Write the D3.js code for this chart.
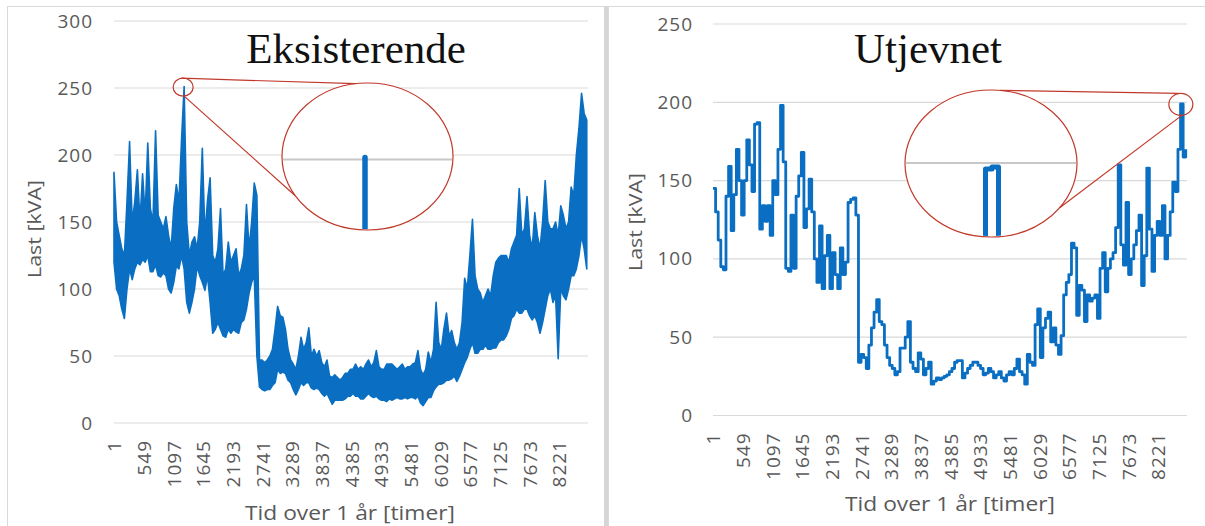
<!DOCTYPE html>
<html><head><meta charset="utf-8">
<script src="https://cdn.jsdelivr.net/npm/d3@7"></script>
<style>html,body{margin:0;padding:0;background:#fff;} svg{display:block}</style>
</head><body>
<svg id="c" width="1205" height="526"></svg>
<script>
// ---------- data (one window every 48 hours) ----------
const sampleStepHours = 48;
const xTickLabels = [1,549,1097,1645,2193,2741,3289,3837,4385,4933,5481,6029,6577,7125,7673,8221];
const yTicksLeft = [0,50,100,150,200,250,300];
const yTicksRight = [0,50,100,150,200,250];
const chartTitles = ["Eksisterende","Utjevnet"];
const yAxisTitle = "Last [kVA]";
const xAxisTitle = "Tid over 1 år [timer]";

// "Eksisterende": highest and lowest hourly load inside each 48-hour window
const eksisterendeMax = [
 187,150,140,130,125,165,210,150,165,189,150,186,155,209,160,150,218,155,150,145,
 154,140,130,160,178,165,211,251,150,125,135,139,130,150,205,140,166,183,125,120,
 130,160,110,115,135,120,125,130,110,115,125,163,130,150,179,170,47,47,45,47,
 50,55,70,87,80,79,70,55,47,44,40,50,64,55,60,71,50,55,50,54,
 45,42,47,35,34,36,34,32,34,37,37,40,40,44,40,42,40,44,47,42,
 45,54,42,40,40,44,44,44,42,40,42,44,40,42,42,44,45,54,40,36,
 40,53,45,55,90,60,55,70,82,65,69,60,55,60,75,108,100,125,152,110,
 100,97,90,95,100,95,110,120,123,125,125,125,120,130,135,140,175,140,145,169,
 140,130,157,140,130,150,181,150,145,145,150,140,162,155,145,150,176,170,200,220,
 246,231,226
];
const eksisterendeMin = [
 120,100,95,85,78,100,115,107,115,120,118,122,120,125,113,113,118,110,109,112,
 110,100,97,105,117,115,125,115,90,82,90,100,117,110,105,99,110,90,67,70,
 75,70,65,64,70,67,70,68,67,75,77,85,97,105,110,50,27,25,24,25,
 25,28,30,40,37,38,37,32,30,25,21,25,30,28,30,30,26,25,26,25,
 22,20,22,18,14,17,17,17,17,18,20,20,22,20,20,18,18,20,22,20,
 19,20,18,17,17,16,18,17,18,19,18,18,19,18,19,19,18,20,15,13,
 16,19,19,24,27,29,29,30,32,32,33,35,31,35,40,45,49,55,60,52,
 52,55,55,58,55,55,56,56,60,62,62,65,70,78,80,85,82,82,85,85,
 80,77,80,75,67,75,85,95,100,90,95,48,100,95,92,100,110,110,115,125,
 140,130,115
];

// "Utjevnet": load at the start of each 48-hour window
const utjevnet = [
 145,130,112,95,93,140,159,118,141,170,150,128,150,176,160,143,186,187,119,134,
 124,134,115,150,141,170,198,162,94,92,128,94,140,153,168,120,132,151,130,100,
 85,121,81,102,115,81,104,90,81,107,90,98,136,138,139,128,34,39,37,30,
 45,56,66,74,60,58,45,37,32,30,26,28,43,43,50,60,34,30,28,40,
 36,26,30,34,20,22,24,23,24,25,26,28,30,34,35,35,24,27,30,32,
 34,34,32,30,26,27,30,28,24,26,28,24,22,26,28,26,30,36,28,26,
 20,39,34,32,58,68,37,56,62,66,47,56,45,39,51,77,85,90,110,107,
 64,83,80,60,77,73,75,77,62,94,104,79,94,100,104,120,160,109,96,136,
 90,100,109,118,128,83,102,158,119,92,115,124,115,134,100,115,130,149,143,170,
 199,165,170
];

// ---------- layout ----------
const svg = d3.select("#c");
const FONT = "'Open Sans', 'Noto Sans', sans-serif";
const TXT = "#595959";
const BLUE = "#0a6fc2";
const RED = "#c0392b";

svg.append("rect").attr("x",7.5).attr("y",6.5).attr("width",597).attr("height",530)
  .attr("fill","#fff").attr("stroke","#d9d9d9").attr("stroke-width",1);
svg.append("rect").attr("x",608.5).attr("y",6.5).attr("width",600).attr("height",530)
  .attr("fill","#fff").attr("stroke","#d9d9d9").attr("stroke-width",1);
svg.append("rect").attr("x",604).attr("y",6).attr("width",4).attr("height",520).attr("fill","#d6d6d6");

const panels = [
  {kind: "band", hi: eksisterendeMax, lo: eksisterendeMin, yTicks: yTicksLeft, yMax: 300,
   left: 114, right: 588, top: 21, bottom: 423,
   labelRight: 93, xLabTop: 17, yTitleX: 41, yTitleY: 229, xTitleX: 350, xTitleY: 520,
   title: chartTitles[0], titleX: 356, titleY: 63,
   peakIndex: 27, smallR: [10, 9], big: {cx: 367.5, cy: 156.5, rx: 85.5, ry: 73.5},
   topT: -98, botT: 148, inset: "bar"},
  {kind: "line", values: utjevnet, yTicks: yTicksRight, yMax: 250,
   left: 713, right: 1187, top: 24, bottom: 415.5,
   labelRight: 693, xLabTop: 17, yTitleX: 642, yTitleY: 222, xTitleX: 950, xTitleY: 511,
   title: chartTitles[1], titleX: 928, titleY: 63,
   peakIndex: 180, smallR: [12, 11], big: {cx: 991, cy: 163.5, rx: 86, ry: 73.5},
   topT: -84, botT: 37, inset: "double"}
];

panels.forEach((p, pi) => {
  const g = svg.append("g");
  const x = d3.scaleLinear().domain([1, 8760]).range([p.left, p.right]);
  const y = d3.scaleLinear().domain([0, p.yMax]).range([p.bottom, p.top]);
  const hourOf = i => 1 + sampleStepHours * i;

  g.append("g").selectAll("line").data(p.yTicks).join("line")
    .attr("x1", p.left).attr("x2", p.right)
    .attr("y1", d => y(d)).attr("y2", d => y(d))
    .attr("stroke", "#d9d9d9").attr("stroke-width", 1.2);

  const ya = g.append("g").attr("transform", `translate(${p.left},0)`)
    .call(d3.axisLeft(y).tickValues(p.yTicks).tickSize(0).tickPadding(p.left - p.labelRight));
  ya.select(".domain").remove();
  ya.selectAll("text").attr("font-family", FONT).attr("font-size", 19)
    .attr("fill", TXT).attr("letter-spacing", 1);

  const xa = g.append("g").attr("transform", `translate(0,${p.bottom})`)
    .call(d3.axisBottom(x).tickValues(xTickLabels).tickSize(0).tickFormat(d => String(d)));
  xa.select(".domain").remove();
  xa.selectAll("text")
    .attr("transform", "rotate(-90)")
    .attr("text-anchor", "end")
    .attr("x", -p.xLabTop).attr("y", 0).attr("dy", "0.36em")
    .attr("font-family", FONT).attr("font-size", 19)
    .attr("fill", TXT).attr("letter-spacing", 1);

  g.append("text").attr("transform", `translate(${p.yTitleX},${p.yTitleY}) rotate(-90)`)
    .attr("text-anchor", "middle").attr("font-family", FONT).attr("font-size", 19)
    .attr("fill", TXT).attr("textLength", 98).attr("lengthAdjust", "spacingAndGlyphs")
    .text(yAxisTitle);
  g.append("text").attr("x", p.xTitleX).attr("y", p.xTitleY)
    .attr("text-anchor", "middle").attr("font-family", FONT).attr("font-size", 20)
    .attr("fill", TXT).attr("textLength", 210).attr("lengthAdjust", "spacingAndGlyphs")
    .text(xAxisTitle);

  g.append("text").attr("x", p.titleX).attr("y", p.titleY)
    .attr("text-anchor", "middle").attr("font-family", "'Liberation Serif', 'Times New Roman', serif")
    .attr("font-size", 43).attr("fill", "#111").text(p.title);

  let peakVal;
  if (p.kind === "band") {
    const idx = d3.range(p.hi.length);
    const area = d3.area()
      .x(i => x(hourOf(i)))
      .y0(i => y(p.lo[i]))
      .y1(i => y(p.hi[i]));
    g.append("path").datum(idx).attr("d", area)
      .attr("fill", BLUE).attr("stroke", BLUE).attr("stroke-width", 1.6)
      .attr("stroke-linejoin", "round");
    peakVal = p.hi[p.peakIndex];
  } else {
    const line = d3.line()
      .x((d, i) => x(hourOf(i)))
      .y(d => y(d))
      .curve(d3.curveStepAfter);
    g.append("path").datum(p.values).attr("d", line)
      .attr("fill", "none").attr("stroke", BLUE).attr("stroke-width", 2.8)
      .attr("stroke-linejoin", "round");
    peakVal = p.values[p.peakIndex];
  }

  // ---------- zoom annotation ----------
  const px = x(hourOf(p.peakIndex)) + (p.kind === "line" ? 1.3 : 0);
  const py = y(peakVal);
  const b = p.big;
  const rad = a => a * Math.PI / 180;
  const ePt = t => [b.cx + b.rx * Math.cos(rad(t)), b.cy + b.ry * Math.sin(rad(t))];
  const a = g.append("g");
  a.append("ellipse").attr("cx", b.cx).attr("cy", b.cy).attr("rx", b.rx).attr("ry", b.ry)
    .attr("fill", "#fff").attr("stroke", RED).attr("stroke-width", 1.2);
  const clipId = "clip" + pi;
  a.append("clipPath").attr("id", clipId).append("ellipse")
    .attr("cx", b.cx).attr("cy", b.cy).attr("rx", b.rx - 0.8).attr("ry", b.ry - 0.8);
  const inner = a.append("g").attr("clip-path", `url(#${clipId})`);
  if (p.inset === "bar") {
    inner.append("line").attr("x1", b.cx - b.rx).attr("x2", b.cx + b.rx)
      .attr("y1", b.cy + 3).attr("y2", b.cy + 3).attr("stroke", "#c8c8c8").attr("stroke-width", 2);
    inner.append("line").attr("x1", b.cx - 2.5).attr("x2", b.cx - 2.5)
      .attr("y1", b.cy + 1).attr("y2", b.cy + b.ry + 2)
      .attr("stroke", BLUE).attr("stroke-width", 5.5).attr("stroke-linecap", "round");
  } else {
    inner.append("line").attr("x1", b.cx - b.rx).attr("x2", b.cx + b.rx)
      .attr("y1", b.cy - 0.5).attr("y2", b.cy - 0.5).attr("stroke", "#c8c8c8").attr("stroke-width", 2);
    inner.append("path")
      .attr("d", `M${b.cx - 5.5},${b.cy + b.ry + 2} V${b.cy + 5.5} H${b.cx + 1} V${b.cy + 3.5} H${b.cx + 7.5} V${b.cy + b.ry + 2}`)
      .attr("fill", "none").attr("stroke", BLUE).attr("stroke-width", 5).attr("stroke-linejoin", "round");
  }
  a.append("ellipse").attr("cx", px - 1).attr("cy", py + 0.5).attr("rx", p.smallR[0]).attr("ry", p.smallR[1])
    .attr("fill", "none").attr("stroke", RED).attr("stroke-width", 1.2);
  const tp = ePt(p.topT), bp = ePt(p.botT);
  a.append("line").attr("x1", px - 3).attr("y1", py + 0.5 - p.smallR[1])
    .attr("x2", tp[0]).attr("y2", tp[1]).attr("stroke", RED).attr("stroke-width", 1.2);
  a.append("line").attr("x1", px).attr("y1", py + 0.5 + p.smallR[1])
    .attr("x2", bp[0]).attr("y2", bp[1]).attr("stroke", RED).attr("stroke-width", 1.2);
});
</script>
</body></html>
